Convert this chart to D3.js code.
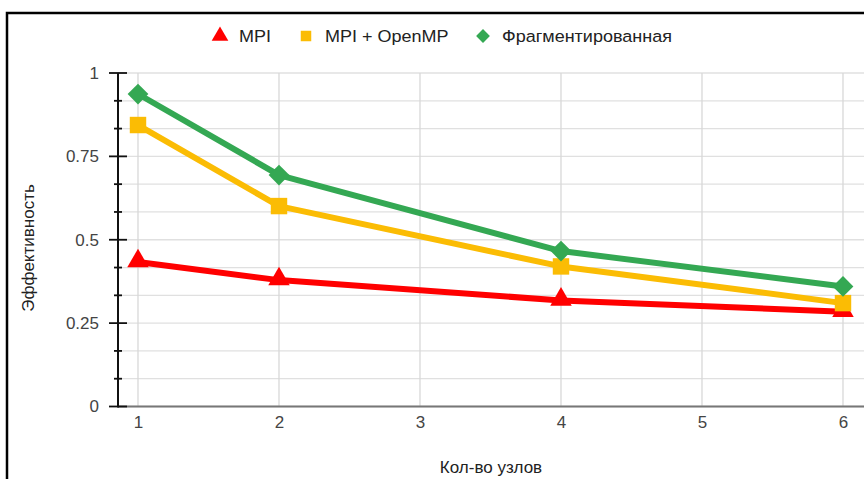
<!DOCTYPE html>
<html>
<head>
<meta charset="utf-8">
<script src="https://cdn.jsdelivr.net/npm/d3@7"></script>
<style>
  html, body { margin: 0; padding: 0; background: #fff; }
  svg { display: block; }
</style>
</head>
<body>
<svg id="chart" width="864" height="479"></svg>
<script>
// ---- data ----
const nodes = [1, 2, 4, 6];
const mpi = [0.433, 0.379, 0.318, 0.284];
const mpiOpenMP = [0.844, 0.601, 0.42, 0.31];
const fragmented = [0.937, 0.694, 0.466, 0.36];
const seriesNames = ["MPI", "MPI + OpenMP", "Фрагментированная"];
const xTicks = [1, 2, 3, 4, 5, 6];
const yMajorTicks = [0, 0.25, 0.5, 0.75, 1];
const yTickLabels = ["0", "0.25", "0.5", "0.75", "1"];
const xTitle = "Кол-во узлов";
const yTitle = "Эффективность";

const colors = ["#ff0000", "#fbbc04", "#34a853"];
const svg = d3.select("#chart");
const font = "'Liberation Sans', Arial, sans-serif";
const fs = 17;

// marker shapes (diamond = rotated square)
const markerPath = (si, size) => {
  if (si === 0) return d3.symbol().type(d3.symbolTriangle).size(size)();
  return d3.symbol().type(d3.symbolSquare).size(size)();
};
const markerRot = si => si === 2 ? " rotate(45)" : "";
const symSizes = [200, 270, 215];

// frame
svg.append("rect")
  .attr("x", 7).attr("y", 13)
  .attr("width", 900).attr("height", 520)
  .attr("fill", "none").attr("stroke", "#000").attr("stroke-width", 2.5);

const x = d3.scaleLinear().domain([1, 6]).range([138, 843]);
const y = d3.scaleLinear().domain([0, 1]).range([406.5, 73]);
const axisLeft = 118, axisRight = 864;

// grid
const minorTicks = d3.range(0, 13).map(i => i / 12);
svg.append("g").selectAll("line").data(minorTicks).join("line")
  .attr("x1", axisLeft).attr("x2", axisRight)
  .attr("y1", d => y(d)).attr("y2", d => y(d))
  .attr("stroke", "#e0e0e0").attr("stroke-width", 1.3);
svg.append("g").selectAll("line").data(xTicks).join("line")
  .attr("x1", d => x(d)).attr("x2", d => x(d))
  .attr("y1", y(1)).attr("y2", y(0))
  .attr("stroke", "#d8d8d8").attr("stroke-width", 1.3);

// x axis baseline
svg.append("line")
  .attr("x1", axisLeft).attr("x2", axisRight)
  .attr("y1", y(0)).attr("y2", y(0))
  .attr("stroke", "#777").attr("stroke-width", 2);

// x tick labels
const xAxis = d3.axisBottom(x).tickValues(xTicks).tickSize(0).tickPadding(9).tickFormat(d3.format("d"));
const gx = svg.append("g").attr("transform", `translate(0,${y(0)})`).call(xAxis);
gx.select(".domain").remove();
gx.selectAll("text").attr("font-family", font).attr("font-size", fs).attr("fill", "#444");

// y axis
svg.append("line")
  .attr("x1", axisLeft).attr("x2", axisLeft)
  .attr("y1", y(1)).attr("y2", y(0) + 1)
  .attr("stroke", "#111").attr("stroke-width", 2);
svg.append("g").selectAll("line").data(minorTicks).join("line")
  .attr("x1", d => (Math.round(d * 12) % 3 === 0) ? axisLeft - 9 : axisLeft - 4)
  .attr("x2", d => (Math.round(d * 12) % 3 === 0) ? axisLeft + 9 : axisLeft + 4)
  .attr("y1", d => y(d)).attr("y2", d => y(d))
  .attr("stroke", "#111").attr("stroke-width", 1.8);
const yAxis = d3.axisLeft(y).tickValues(yMajorTicks).tickSize(0).tickPadding(0)
  .tickFormat((d, i) => yTickLabels[i]);
const gy = svg.append("g").attr("transform", `translate(${axisLeft - 19},0)`).call(yAxis);
gy.select(".domain").remove();
gy.selectAll("text").attr("font-family", font).attr("font-size", fs).attr("fill", "#444");

// titles
svg.append("text").text(xTitle)
  .attr("x", 491).attr("y", 473).attr("text-anchor", "middle")
  .attr("font-family", font).attr("font-size", fs).attr("fill", "#222");
svg.append("text").text(yTitle)
  .attr("transform", "translate(34,248) rotate(-90)").attr("text-anchor", "middle")
  .attr("font-family", font).attr("font-size", fs).attr("fill", "#222");

// series
const allSeries = [mpi, mpiOpenMP, fragmented];
const line = d3.line().x((d, i) => x(nodes[i])).y(d => y(d));
allSeries.forEach((vals, si) => {
  const g = svg.append("g");
  g.append("path").datum(vals).attr("d", line)
    .attr("fill", "none").attr("stroke", colors[si]).attr("stroke-width", 6)
    .attr("stroke-linejoin", "round");
  g.selectAll("path.m").data(vals).join("path").attr("class", "m")
    .attr("d", markerPath(si, symSizes[si]))
    .attr("transform", (d, i) => `translate(${x(nodes[i])},${y(d) - (si === 0 ? 1 : 0)})${markerRot(si)}`)
    .attr("fill", colors[si]);
});

// legend
const legendX = [220, 306, 483];
const legendSizes = [120, 110, 95];
const lg = svg.append("g");
seriesNames.forEach((name, i) => {
  lg.append("path")
    .attr("d", markerPath(i, legendSizes[i]))
    .attr("transform", `translate(${legendX[i]},36)${markerRot(i)}`)
    .attr("fill", colors[i]);
  lg.append("text").text(name)
    .attr("transform", `translate(${legendX[i] + 19},42) scale(1.06,1)`)
    .attr("font-family", font).attr("font-size", fs).attr("fill", "#222");
});
</script>
</body>
</html>
